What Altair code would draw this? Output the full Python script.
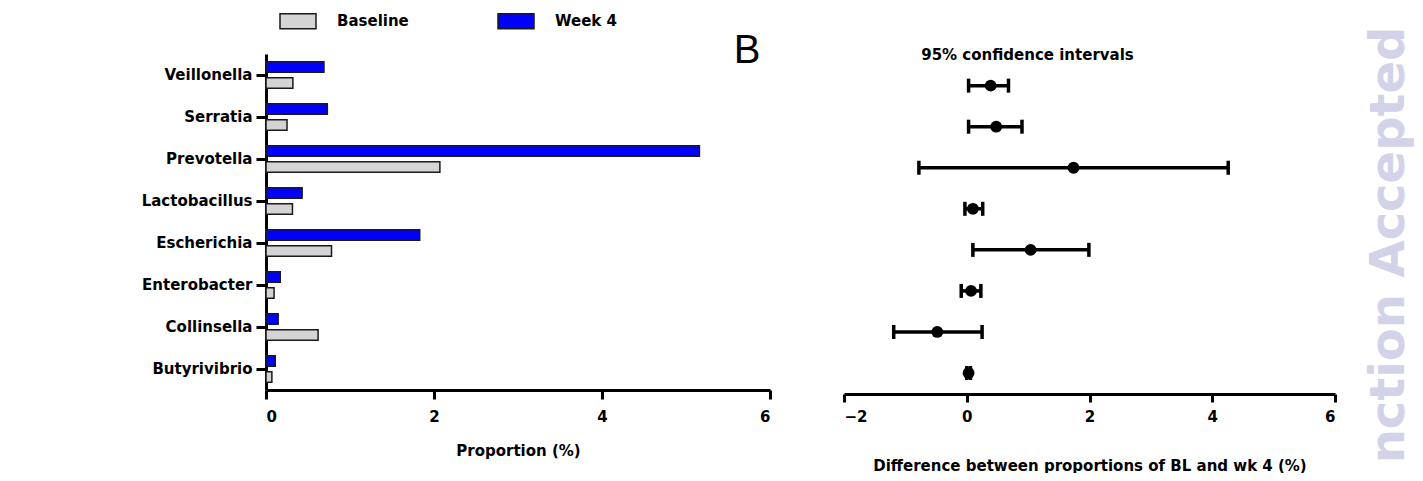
import altair as alt
import pandas as pd

# ---- data ----
genera = ["Veillonella", "Serratia", "Prevotella", "Lactobacillus",
          "Escherichia", "Enterobacter", "Collinsella", "Butyrivibrio"]
baseline = [0.32, 0.25, 2.07, 0.315, 0.78, 0.096, 0.62, 0.07]
week4 = [0.69, 0.73, 5.16, 0.43, 1.83, 0.17, 0.145, 0.11]
diff = [0.39, 0.48, 1.74, 0.10, 1.04, 0.07, -0.48, 0.03]
ci_low = [0.03, 0.03, -0.78, -0.03, 0.10, -0.09, -1.19, 0.00]
ci_high = [0.68, 0.90, 4.26, 0.26, 1.99, 0.23, 0.25, 0.06]
groups = ["Baseline", "Week 4"]
x_ticks_left = [0, 2, 4, 6]
x_ticks_right = [-2, 0, 2, 4, 6]

FONT = "DejaVu Sans"
FS = 15

bars_df = pd.DataFrame(
    [{"genus": g, "group": "Baseline", "value": v} for g, v in zip(genera, baseline)]
    + [{"genus": g, "group": "Week 4", "value": v} for g, v in zip(genera, week4)]
)
ci_df = pd.DataFrame({"genus": genera, "diff": diff, "lo": ci_low, "hi": ci_high})

axis_common = dict(
    labelFont=FONT, labelFontSize=FS, labelFontWeight="bold", labelColor="black",
    titleFont=FONT, titleFontSize=FS, titleFontWeight="bold", titleColor="black",
    domainColor="black", domainWidth=3, tickColor="black", tickWidth=3, grid=False,
)

# ---- left panel: bars ----
bars = alt.Chart(bars_df).mark_bar(stroke="#1a1a1a", strokeWidth=1.5).encode(
    x=alt.X("value:Q", scale=alt.Scale(domain=[0, 6], nice=False),
            axis=alt.Axis(values=x_ticks_left, title="Proportion (%)", tickSize=9, format="d",
                          labelPadding=10, titlePadding=19, **axis_common)),
    y=alt.Y("genus:N", sort=genera,
            scale=alt.Scale(paddingInner=0.364, paddingOuter=0.182),
            axis=alt.Axis(title=None, tickSize=10, labelPadding=4, **axis_common)),
    yOffset=alt.YOffset("group:N", sort=["Week 4", "Baseline"],
                        scale=alt.Scale(paddingInner=0.33)),
    color=alt.Color("group:N", scale=alt.Scale(domain=groups, range=["#d4d4d4", "#0000ff"]),
                    legend=alt.Legend(title=None, orient="none", legendX=22, legendY=-43,
                                      direction="horizontal", columns=2,
                                      symbolType="M-2,-0.84H2V0.84H-2Z", symbolSize=324,
                                      symbolStrokeColor="#1a1a1a", symbolStrokeWidth=1.5,
                                      labelFont=FONT, labelFontSize=FS, labelFontWeight="bold",
                                      labelColor="black", labelOffset=29, columnPadding=86)),
)

b_label = alt.Chart(pd.DataFrame({"t": ["B"]})).mark_text(
    font="Liberation Sans", fontSize=40, align="center", baseline="middle", color="black"
).encode(text="t:N", x=alt.value(481), y=alt.value(-3))

left = alt.layer(bars, b_label).properties(width=504, height=336)

# ---- right panel: confidence intervals ----
yR = alt.Y("genus:N", sort=genera,
           scale=alt.Scale(paddingInner=0, paddingOuter=0.141, align=0.96), axis=None)
xR_scale = alt.Scale(domain=[-2, 6], nice=False)
base = alt.Chart(ci_df)

rule = base.mark_rule(strokeWidth=3.5, color="black").encode(
    x=alt.X("lo:Q", scale=xR_scale,
            axis=alt.Axis(values=x_ticks_right, format="d",
                          title="Difference between proportions of BL and wk 4 (%)",
                          tickSize=8, labelPadding=7, titlePadding=34, **axis_common)),
    x2="hi:Q", y=yR)
cap_lo = base.mark_tick(orient="vertical", thickness=3.5, size=14, color="black", opacity=1).encode(
    x=alt.X("lo:Q", scale=xR_scale), y=yR)
cap_hi = base.mark_tick(orient="vertical", thickness=3.5, size=14, color="black", opacity=1).encode(
    x=alt.X("hi:Q", scale=xR_scale), y=yR)
dots = base.mark_circle(size=140, color="black", opacity=1).encode(
    x=alt.X("diff:Q", scale=xR_scale), y=yR)

watermark = alt.Chart(pd.DataFrame({"t": ["nction Accepted"]})).mark_text(
    font=FONT, fontSize=48, fontWeight="bold", color="#d2d2e8", angle=270,
    align="center", baseline="alphabetic"
).encode(text="t:N", x=alt.value(560), y=alt.value(191))

right = alt.layer(rule, cap_lo, cap_hi, dots, watermark).properties(
    width=491, height=340,
    title=alt.TitleParams("95% confidence intervals", font=FONT, fontSize=FS, fontWeight="bold",
                          color="black", anchor="middle", dx=-62, dy=36, offset=0),
)

chart = alt.hconcat(left, right, spacing=70).properties(
    padding={"left": 133, "top": 3, "right": 0, "bottom": 0},
    background="white",
).configure_view(stroke="transparent", strokeWidth=0)

chart.save("out.html", embed_options={"renderer": "svg", "actions": False})
